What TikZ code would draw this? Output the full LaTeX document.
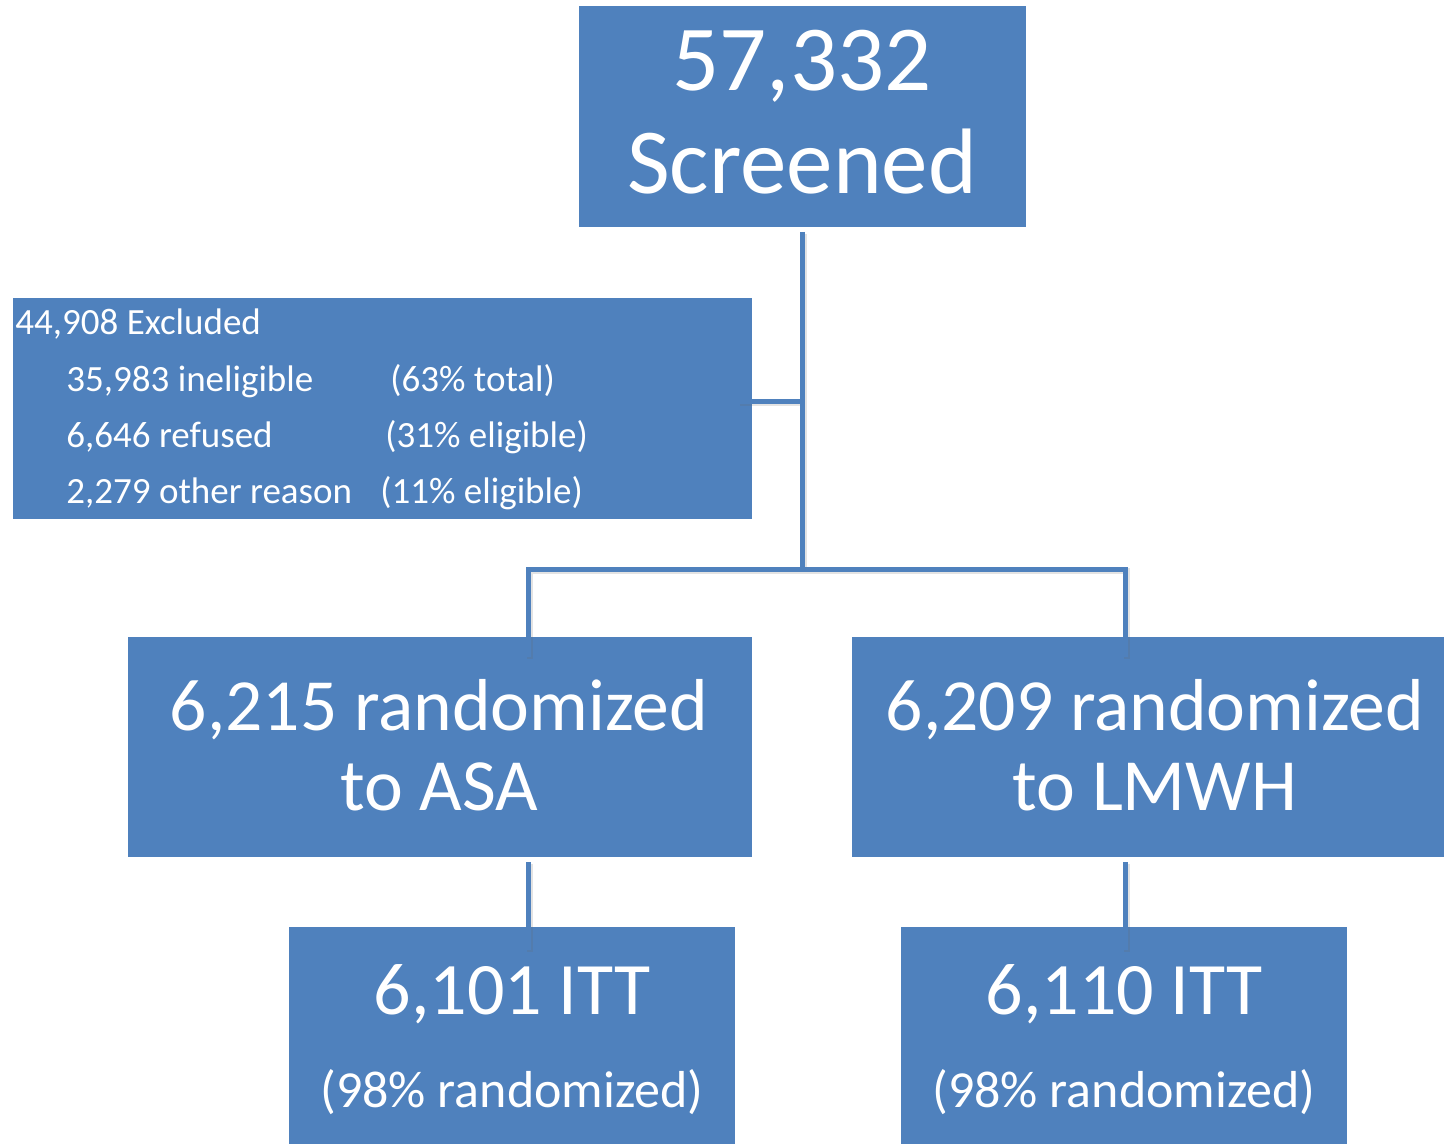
\documentclass[tikz,border=0pt]{standalone}
\usepackage{fontspec}
\setmainfont{Carlito}
\usetikzlibrary{fit}
\definecolor{boxblue}{HTML}{4F81BD}
\begin{document}
\begin{tikzpicture}[x=0.5pt,y=-0.5pt,
  box/.style={fill=boxblue, draw=none, inner sep=0pt, outer sep=0pt},
  txt/.style={text=white, inner sep=0pt, anchor=base},
  txtl/.style={text=white, inner sep=0pt, anchor=base west, font=\fontsize{18.5}{20}\selectfont},
  shade/.style={draw=black!60, opacity=0.18, line width=3pt},
  link/.style={draw=boxblue, line width=2.5pt}]
\useasboundingbox (0,0) rectangle (1444,1144);
% boxes
\node[box, fit={(579,6) (1026,227)}] (top) {};
\node[box, fit={(13,298) (752,519)}] (excl) {};
\node[box, fit={(128,637) (752,857)}] (asa) {};
\node[box, fit={(852,637) (1444,857)}] (lmwh) {};
\node[box, fit={(289,927) (735,1144)}] (itta) {};
\node[box, fit={(901,927) (1347,1144)}] (ittl) {};
% connectors
\coordinate (j1) at (802,401);
\coordinate (j2) at (802,569);
\coordinate (bl) at (528,569);
\coordinate (br) at (1125,569);
\begin{scope}[transform canvas={shift={(0.9pt,-0.9pt)}}]
\draw[shade] ([yshift=-2.5pt]top.south -| j1) -- (j2);
\draw[shade] (j1) -- ([xshift=-7pt]excl.east |- j1);
\draw[shade] ([yshift=-10pt]asa.north -| bl) -- (bl) -- (br) -- ([yshift=-10pt]lmwh.north -| br);
\draw[shade] ([yshift=-2.5pt]asa.south -| bl) -- ([yshift=-11.5pt]itta.north -| bl);
\draw[shade] ([yshift=-2.5pt]lmwh.south -| br) -- ([yshift=-11.5pt]ittl.north -| br);
\end{scope}
\draw[link] ([yshift=-2.5pt]top.south -| j1) -- (j2);
\draw[link] (j1) -- ([xshift=-7pt]excl.east |- j1);
\draw[link] ([yshift=-10pt]asa.north -| bl) -- (bl) -- (br) -- ([yshift=-10pt]lmwh.north -| br);
\draw[link] ([yshift=-2.5pt]asa.south -| bl) -- ([yshift=-11.5pt]itta.north -| bl);
\draw[link] ([yshift=-2.5pt]lmwh.south -| br) -- ([yshift=-11.5pt]ittl.north -| br);
% texts
\node[txt, font=\fontsize{46.5}{50}\selectfont] (t1) at (802,91) {57,332};
\node[txt, font=\fontsize{46.5}{50}\selectfont] (t2) at (802,194) {Screened};
\node[txtl] (e0) at (15,335) {44,908 Excluded};
\node[txtl] (e1) at (66,391) {35,983 ineligible};
\node[txtl] (e1b) at (390,391) {(63\% total)};
\node[txtl] (e2) at (66,447) {6,646 refused};
\node[txtl] (e2b) at (385,447) {(31\% eligible)};
\node[txtl] (e3) at (66,503) {2,279 other reason};
\node[txtl] (e3b) at (380,503) {(11\% eligible)};
\node[txt, font=\fontsize{36.8}{40}\selectfont] (a1) at (439,730) {6,215 randomized};
\node[txt, font=\fontsize{36.8}{40}\selectfont] (a2) at (439,810) {to ASA};
\node[txt, font=\fontsize{36.8}{40}\selectfont] (l1) at (1155,730) {6,209 randomized};
\node[txt, font=\fontsize{36.8}{40}\selectfont] (l2) at (1155,810) {to LMWH};
\node[txt, font=\fontsize{37}{40}\selectfont] (ia1) at (512,1014) {6,101 ITT};
\node[txt, font=\fontsize{26}{30}\selectfont] (ia2) at (512,1107) {(98\% randomized)};
\node[txt, font=\fontsize{37}{40}\selectfont] (il1) at (1124,1014) {6,110 ITT};
\node[txt, font=\fontsize{26}{30}\selectfont] (il2) at (1124,1107) {(98\% randomized)};
\end{tikzpicture}
\end{document}
